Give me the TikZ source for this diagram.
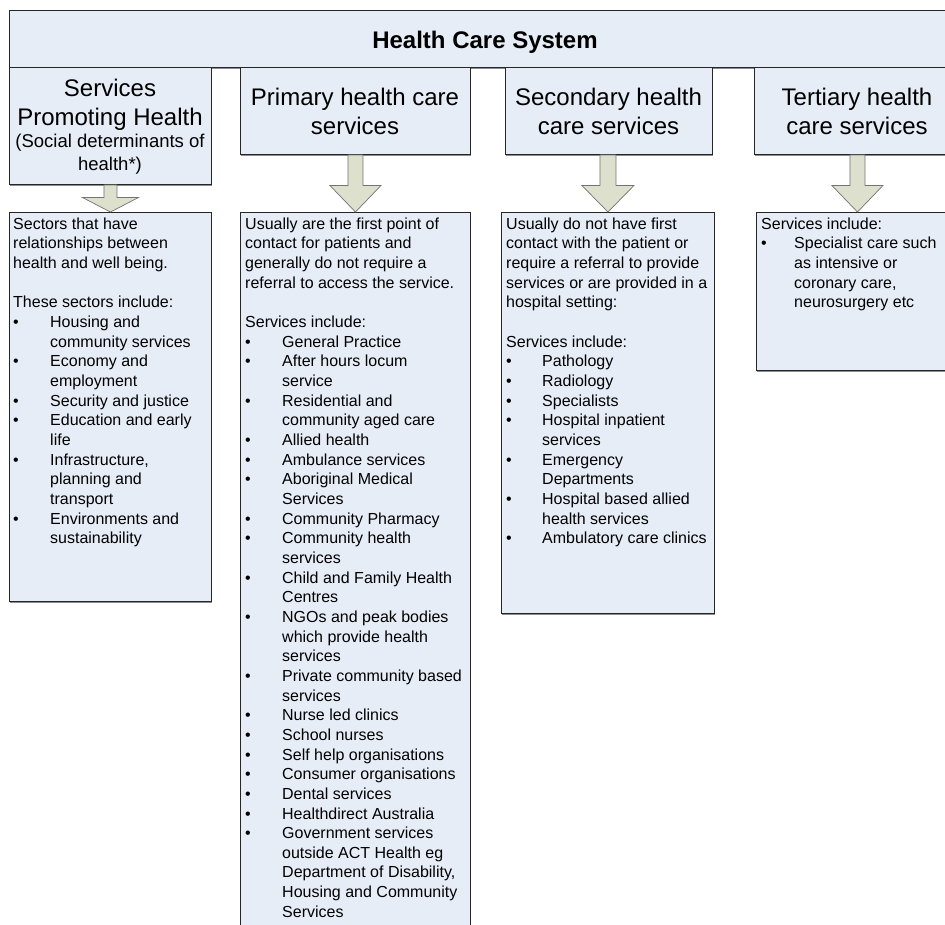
\documentclass[tikz,border=0pt]{standalone}
\usepackage{fontspec}
\setmainfont{Liberation Sans}
\usetikzlibrary{calc,shadows}
\definecolor{boxfill}{RGB}{231,237,247}
\definecolor{arrfill}{RGB}{221,224,204}
\definecolor{arredge}{RGB}{115,115,115}
\newcommand\bi[1][37pt]{\makebox[#1][l]{\textbullet}}
\newcommand\ci[1][37pt]{\hspace*{#1}}
\newcommand\barr[5]{%
  \draw[barrow] ($(#2.north |- #1.south)+(-#3,0)$) -- ($(#2.north)+(-#3,-#5)$) -- ($(#2.north)+(-#4,-#5)$) -- (#2.north) -- ($(#2.north)+(#4,-#5)$) -- ($(#2.north)+(#3,-#5)$) -- ($(#2.north |- #1.south)+(#3,0)$) -- cycle;}
\begin{document}
\begin{tikzpicture}[x=1pt,y=-1pt,
  box/.style={draw=black!85, line width=0.9pt, fill=boxfill, inner sep=0pt, anchor=north west,
    drop shadow={shadow xshift=0.6pt,shadow yshift=-1.3pt,fill=black!45,opacity=1}},
  body/.style={anchor=north west, inner sep=0pt, align=left, font=\fontsize{16}{19.66}\selectfont},
  headtxt/.style={anchor=base, inner sep=0pt, font=\fontsize{24}{29}\selectfont},
  subtxt/.style={anchor=base, inner sep=0pt, font=\fontsize{18.5}{22}\selectfont},
  barrow/.style={draw=arredge, line width=0.7pt, fill=arrfill, line join=miter}]
\useasboundingbox (0,0) rectangle (945,924);
\fill[white] (0,0) rectangle (945,924);
\clip (0,0) rectangle (945,924);

% top box
\node[box, minimum width=952pt, minimum height=57pt] (top) at (9,10) {};
% headers
\node[box, minimum width=202pt, minimum height=117pt] (h1) at (9,67) {};
\node[box, minimum width=230pt, minimum height=87pt] (h2) at (240,67) {};
\node[box, minimum width=207pt, minimum height=87pt] (h3) at (505,67) {};
\node[box, minimum width=206pt, minimum height=87pt] (h4) at (754,67) {};
% content boxes
\node[box, minimum width=202pt, minimum height=389pt] (c1) at (9,212) {};
\node[box, minimum width=230pt, minimum height=720pt] (c2) at (240,212) {};
\node[box, minimum width=213pt, minimum height=401pt] (c3) at (501,212) {};
\node[box, minimum width=202pt, minimum height=158pt] (c4) at (756,212) {};

% arrows
\barr{h1}{c1}{6.5}{28}{14.5}
\barr{h2}{c2}{7.5}{25.5}{26.5}
\barr{h3}{c3}{8}{26}{26.5}
\barr{h4}{c4}{7.5}{25.5}{26.5}

% title texts
\node[headtxt, font=\fontsize{24}{29}\selectfont\bfseries] (t0) at (485,48) {Health Care System};
\node[headtxt] (h1a) at (110,96) {Services};
\node[headtxt] (h1b) at (110,125) {Promoting Health};
\node[subtxt] (h1c) at (110,147) {(Social determinants of};
\node[subtxt] (h1d) at (110,170) {health*)};
\node[headtxt] (h2a) at (355,105) {Primary health care};
\node[headtxt] (h2b) at (355,134) {services};
\node[headtxt] (h3a) at (608.5,105) {Secondary health};
\node[headtxt] (h3b) at (608.5,134) {care services};
\node[headtxt] (h4a) at (857,105) {Tertiary health};
\node[headtxt] (h4b) at (857,134) {care services};

% body texts
\node[body] (b1) at (13,217.4) {Sectors that have\\
relationships between\\
health and well being.\\[19.66pt]
These sectors include:\\
\bi Housing and\\
\ci community services\\
\bi Economy and\\
\ci employment\\
\bi Security and justice\\
\bi Education and early\\
\ci life\\
\bi Infrastructure,\\
\ci planning and\\
\ci transport\\
\bi Environments and\\
\ci sustainability};

\node[body] (b2) at (245,217.4) {Usually are the first point of\\
contact for patients and\\
generally do not require a\\
referral to access the service.\\[19.66pt]
Services include:\\
\bi General Practice\\
\bi After hours locum\\
\ci service\\
\bi Residential and\\
\ci community aged care\\
\bi Allied health\\
\bi Ambulance services\\
\bi Aboriginal Medical\\
\ci Services\\
\bi Community Pharmacy\\
\bi Community health\\
\ci services\\
\bi Child and Family Health\\
\ci Centres\\
\bi NGOs and peak bodies\\
\ci which provide health\\
\ci services\\
\bi Private community based\\
\ci services\\
\bi Nurse led clinics\\
\bi School nurses\\
\bi Self help organisations\\
\bi Consumer organisations\\
\bi Dental services\\
\bi Healthdirect Australia\\
\bi Government services\\
\ci outside ACT Health eg\\
\ci Department of Disability,\\
\ci Housing and Community\\
\ci Services};

\node[body] (b3) at (506,217.4) {Usually do not have first\\
contact with the patient or\\
require a referral to provide\\
services or are provided in a\\
hospital setting:\\[19.66pt]
Services include:\\
\bi[36pt]Pathology\\
\bi[36pt]Radiology\\
\bi[36pt]Specialists\\
\bi[36pt]Hospital inpatient\\
\ci[36pt]services\\
\bi[36pt]Emergency\\
\ci[36pt]Departments\\
\bi[36pt]Hospital based allied\\
\ci[36pt]health services\\
\bi[36pt]Ambulatory care clinics};

\node[body] (b4) at (761,217.4) {Services include:\\
\bi[33pt]Specialist care such\\
\ci[33pt]as intensive or\\
\ci[33pt]coronary care,\\
\ci[33pt]neurosurgery etc};
\end{tikzpicture}
\end{document}
